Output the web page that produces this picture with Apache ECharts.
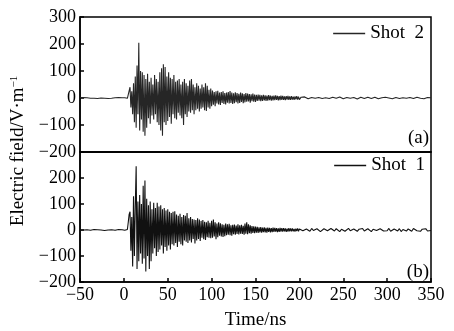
<!DOCTYPE html>
<html><head><meta charset="utf-8">
<script src="https://cdn.jsdelivr.net/npm/echarts/dist/echarts.min.js"></script>
<style>html,body{margin:0;padding:0;background:#fff}#c{width:454px;height:331px}</style>
</head><body><div id="c"></div>
<script>
// Sampling: pre-onset t=-50..-2 step 2 ns; main t=0..200 step 1 ns; tail t=202..350 step 2 ns
const shot2Pre = [1,-1,2,-2,1,0,-1,2,-1,1,-2,1,0,1,-1,2,-2,1,-1,0,1,-1,2,-1,1];
const shot2Main = [
 0,1,-1,2,-1,1,-2,40,-35,25,
 -60,55,-90,80,-110,120,-60,205,-120,100,
 -80,95,-125,85,-140,70,-110,90,-75,60,
 -95,75,-65,50,-80,85,-60,70,-90,60,
 -100,95,-120,110,-140,125,-90,115,-100,80,
 -85,95,-70,75,-95,70,-60,85,-75,60,
 -80,65,-55,70,-65,50,-75,60,-100,70,
 -60,55,-70,45,-50,65,-55,70,-45,50,
 -60,40,-45,55,-40,45,-50,35,-40,50,
 -35,40,-45,55,-48,45,-35,30,-40,35,
 -30,28,-25,22,-30,25,-20,27,-24,20,
 -26,22,-18,25,-22,18,-24,20,-17,22,
 -20,26,-18,20,-22,17,-19,21,-16,18,
 -20,16,-18,20,-15,17,-19,15,-16,18,
 -14,16,-13,15,-17,14,-12,16,-14,13,
 -15,12,-11,13,-10,12,-12,10,-11,12,
 -9,10,-11,9,-10,11,-8,9,-10,8,
 -9,9,-8,10,-7,8,-9,7,-8,9,
 -7,8,-7,6,-8,7,-6,8,-7,6,
 -7,7,-6,5,-7,6,-5,7,-6,5,
 -6];
const shot2Tail = [3,-2,4,1,-3,-4,2,3,-1,-3, 2,4,-2,-3,1,3,-2,0,3,-3, -1,2,4,-2,-3,1,2,-3,-1,3,
 2,-2,-4,1,3,0,-2,2,3,-3, -2,1,3,-1,-3,2,1,-2,3,-2, 0,2,-3,-1,2,3,-2,-2,1,3, -1,-3,2,1,-2,2,3,-2,-1,2, -3,1,2,-2,1];

const shot1Pre = [-1,1,0,-2,1,1,-1,0,2,-1,1,-1,0,1,-2,1,0,-1,1,1,-1,0,2,-1,1];
const shot1Main = [
 0,-1,1,0,2,30,60,70,-80,50,
 -140,130,-100,90,245,-150,110,-120,135,-90,
 100,-130,170,-110,190,-160,120,-100,95,-150,
 110,-120,80,-90,105,-70,85,-100,105,-85,
 90,-75,95,-60,80,-90,85,-65,75,-80,
 80,-60,70,-75,65,-55,70,-60,72,-50,
 60,-65,55,-45,62,-55,50,-60,58,-40,
 55,-45,65,-50,45,-40,50,-48,42,-35,
 40,-52,38,-40,45,-35,40,-42,35,-30,
 38,-35,32,-38,30,-28,35,-30,28,-32,
 35,-30,40,-25,30,-35,25,-28,30,-22,
 26,-25,22,-27,20,-24,25,-20,22,-18,
 24,-20,18,-22,20,-16,21,-18,17,-15,
 22,-17,18,-14,20,-15,16,-18,25,-14,
 30,-16,22,-12,18,-14,15,-11,14,-12,
 13,-10,12,-11,10,-9,11,-10,9,-8,
 10,-9,8,-10,9,-7,8,-9,7,-8,
 9,-7,8,-6,7,-8,6,-7,8,-6,
 7,-6,7,-5,6,-7,5,-6,7,-5,
 6,-5,6,-5,4,-6,5,-4,6,-5,
 4];
const shot1Tail = [5,-3,-6,4,2,-5,6,-2,-4,5, 3,-6,-2,5,4,-3,-5,6,1,-4, 5,-2,-6,3,4,-5,2,6,-3,-4,
 4,1,-5,3,-2,6,-4,-3,5,2, -6,3,4,-2,-5,5,1,-4,3,-3, 6,-5,-2,4,3,-4,5,-6,2,3, -4,4,-3,-5,6,2,-3,4,-5,3, -2,5,-4,3,-2];

const seriesNames = ['Shot 2', 'Shot 1'];
const panelLabels = ['(a)', '(b)'];

function build(pre, main, tail) {
  const d = [];
  pre.forEach((v, i) => d.push([-50 + 2 * i, v]));
  main.forEach((v, i) => d.push([i, v]));
  tail.forEach((v, i) => d.push([202 + 2 * i, v]));
  return d;
}

const F = 'Liberation Serif';
const minus = v => String(v).replace('-', '\u2212');
const lineC = '#000';
const axLine = {onZero: false, lineStyle: {color: lineC, width: 1.5}};

const chart = echarts.init(document.getElementById('c'), null, {renderer: 'canvas'});
chart.setOption({
  animation: false,
  backgroundColor: '#fff',
  grid: [
    {left: 80, right: 23, top: 17, height: 135, show: true, borderColor: lineC, borderWidth: 1.5},
    {left: 80, right: 23, top: 152, height: 132, show: true, borderColor: lineC, borderWidth: 1.5}
  ],
  xAxis: [
    {gridIndex: 0, type: 'value', min: -50, max: 350, interval: 50,
     axisLine: axLine, axisTick: {show: false},
     axisLabel: {show: false}, splitLine: {show: false}},
    {gridIndex: 1, type: 'value', min: -50, max: 350, interval: 50,
     axisLine: axLine,
     axisTick: {inside: true, length: 4, lineStyle: {color: lineC, width: 1.5}},
     axisLabel: {fontSize: 18, fontFamily: F, color: '#000', margin: 4, formatter: minus},
     splitLine: {show: false},
     name: 'Time/ns', nameLocation: 'middle', nameGap: 29,
     nameTextStyle: {fontSize: 19, fontFamily: F, color: '#000'}}
  ],
  yAxis: [
    {gridIndex: 0, type: 'value', min: -200, max: 300, interval: 100,
     axisLine: axLine,
     axisTick: {inside: true, length: 4, lineStyle: {color: lineC, width: 1.5}},
     axisLabel: {fontSize: 18, fontFamily: F, color: '#000', margin: 4, formatter: minus},
     splitLine: {show: false}},
    {gridIndex: 1, type: 'value', min: -200, max: 300, interval: 100,
     axisLine: axLine,
     axisTick: {inside: true, length: 4, lineStyle: {color: lineC, width: 1.5}},
     axisLabel: {fontSize: 18, fontFamily: F, color: '#000', margin: 4,
       formatter: v => v === 300 ? '' : minus(v)},
     splitLine: {show: false}}
  ],
  legend: [
    {data: [seriesNames[0]], right: 30, top: 24, padding: 0, icon: 'rect', itemWidth: 32, itemHeight: 1.5,
     selectedMode: false, formatter: n => n.replace(' ', '\u2002'),
     textStyle: {fontSize: 19, fontFamily: F, color: '#000'}},
    {data: [seriesNames[1]], right: 29, top: 156, padding: 0, icon: 'rect', itemWidth: 32, itemHeight: 1.5,
     selectedMode: false, formatter: n => n.replace(' ', '\u2002'),
     textStyle: {fontSize: 19, fontFamily: F, color: '#000'}}
  ],
  title: [
    {text: panelLabels[0], right: 25, top: 129, padding: 0,
     textStyle: {fontSize: 19, fontWeight: 'normal', fontFamily: F, color: '#000'}},
    {text: panelLabels[1], right: 25, top: 263, padding: 0,
     textStyle: {fontSize: 19, fontWeight: 'normal', fontFamily: F, color: '#000'}}
  ],
  graphic: [{
    type: 'text', x: 18, y: 151, rotation: Math.PI / 2,
    style: {
      text: 'Electric field/V\u00b7m{s|\u22121}',
      font: '19px "Liberation Serif"', fill: '#000',
      align: 'center', verticalAlign: 'middle',
      rich: {s: {fontSize: 11, fontFamily: F, verticalAlign: 'top', padding: [0, 0, 8, 0]}}
    }
  }],
  series: [
    {name: seriesNames[0], type: 'line', xAxisIndex: 0, yAxisIndex: 0, showSymbol: false, symbol: 'none',
     sampling: null, lineStyle: {width: 1.1, color: '#262626'}, itemStyle: {color: '#262626'},
     data: build(shot2Pre, shot2Main, shot2Tail)},
    {name: seriesNames[1], type: 'line', xAxisIndex: 1, yAxisIndex: 1, showSymbol: false, symbol: 'none',
     sampling: null, lineStyle: {width: 1.1, color: '#111'}, itemStyle: {color: '#111'},
     data: build(shot1Pre, shot1Main, shot1Tail)}
  ]
});
</script></body></html>
